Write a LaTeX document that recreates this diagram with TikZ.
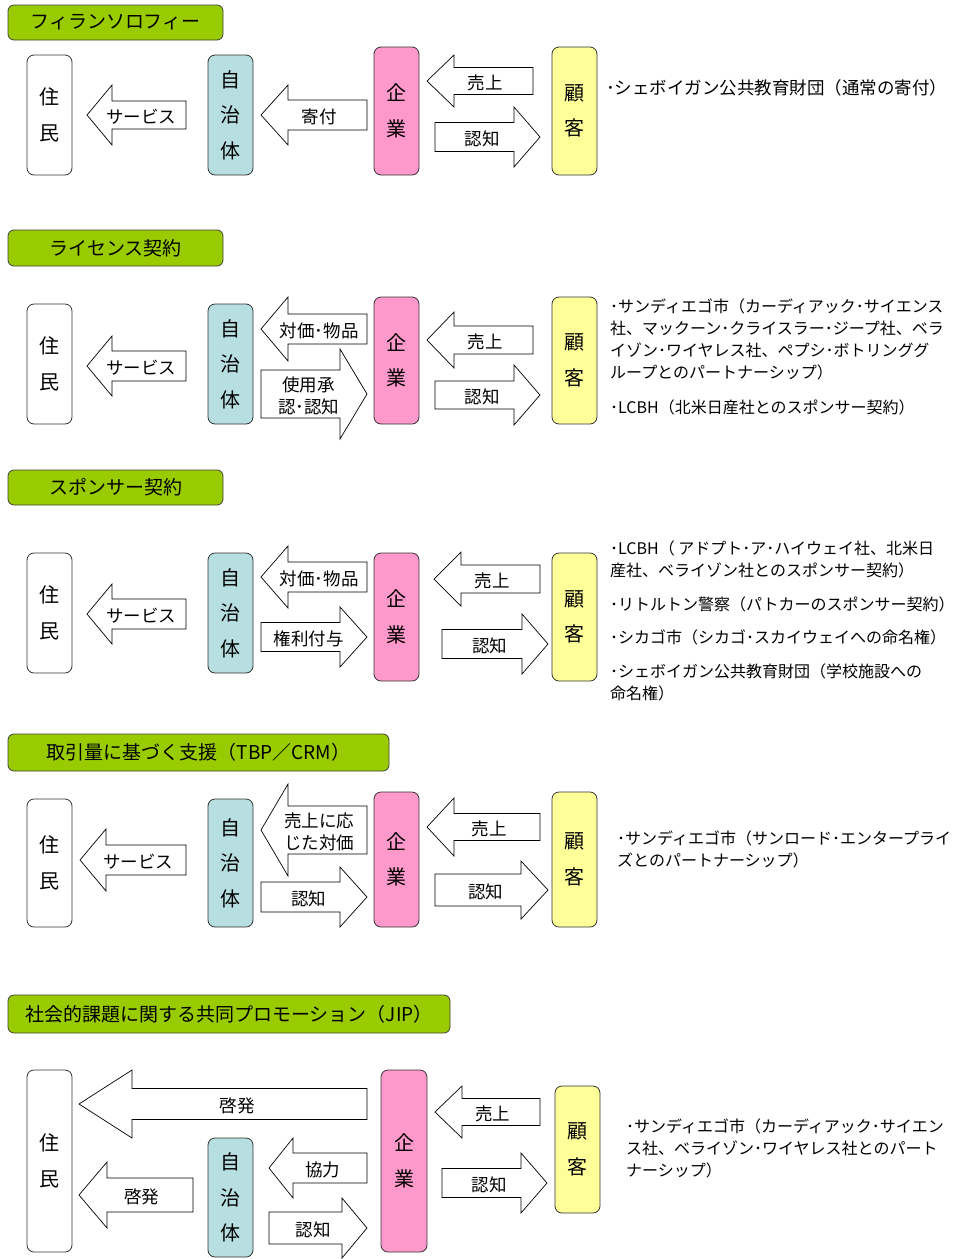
\documentclass[tikz,border=0pt]{standalone}
\usepackage{fontspec}
\setmainfont{Noto Sans CJK JP}
\definecolor{ttlgreen}{HTML}{99CC00}
\definecolor{jichi}{HTML}{B7DEE0}
\definecolor{kigyo}{HTML}{FF99CC}
\definecolor{kokyaku}{HTML}{FFFF99}
\newcommand\boxfont{\fontsize{20}{35.5}\selectfont}
\newcommand\lblfont{\fontsize{17.5}{22}\selectfont}
\newcommand\ttlfont{\fontsize{19}{22}\selectfont}
\newcommand\rtfont{\fontsize{16}{22}\selectfont}
% block arrow: tail x, tip x, y, body half height, head half height, head length, name, label
\newcommand\BlkArr[8]{%
  \pgfmathsetmacro\ba{#2>#1 ? #2-#6 : #2+#6}%
  \pgfmathsetmacro\bl{0.55*#1+0.45*#2}%
  \draw[arrowbox] (#1,#3-#4) -- (\ba,#3-#4) -- (\ba,#3-#5) -- (#2,#3) -- (\ba,#3+#5) -- (\ba,#3+#4) -- (#1,#3+#4) -- cycle;
  \node[albl] (#7) at (\bl,#3+1.5) {#8};
}
\begin{document}
\begin{tikzpicture}[x=1pt,y=-1pt,
  ttl/.style={draw=black!75, line width=0.8pt, fill=ttlgreen, rounded corners=6pt, font=\ttlfont, inner sep=0pt},
  vbox/.style={draw=black!80, line width=0.8pt, rounded corners=7pt, minimum width=45, inner sep=0pt, align=center, font=\boxfont},
  arrowbox/.style={draw=black, line width=0.7pt, fill=white, line join=miter},
  albl/.style={font=\lblfont, inner sep=0pt, align=center},
  rtxt/.style={font=\rtfont, anchor=west, inner sep=0pt}]
\fill[white] (0,0) rectangle (960,1259);
\useasboundingbox (0,0) rectangle (960,1259);

% ===== Section 1 =====
\node[ttl, minimum width=215, minimum height=35] (ttl1) at (115.5,22.5) {フィランソロフィー};
\node[vbox, minimum height=120] (jumin1) at (49.5,115) {住\\民};
\node[vbox, fill=jichi, minimum height=120] (jichi1) at (230.5,115) {自\\治\\体};
\node[vbox, fill=kigyo, minimum height=128] (kigyo1) at (396.5,111) {企\\業};
\node[vbox, fill=kokyaku, minimum height=128] (kokyaku1) at (574.5,111) {顧\\客};
\BlkArr{186}{87}{115}{14}{30}{25}{s1a}{サービス}
\BlkArr{367}{261}{115}{15}{30}{27}{s1b}{寄付}
\BlkArr{533}{427}{81}{13.5}{26}{27}{s1c}{売上}
\BlkArr{435}{540}{137}{14.5}{30}{26}{s1d}{認知}
\node[rtxt, font=\fontsize{17.5}{22}\selectfont] (r1) at (606,88) {･シェボイガン公共教育財団（通常の寄付）};

% ===== Section 2 =====
\node[ttl, minimum width=215, minimum height=36] (ttl2) at (115.5,248) {ライセンス契約};
\node[vbox, minimum height=120] (jumin2) at (49.5,364) {住\\民};
\node[vbox, fill=jichi, minimum height=120] (jichi2) at (230.5,364) {自\\治\\体};
\node[vbox, fill=kigyo, minimum height=127] (kigyo2) at (396.5,360.5) {企\\業};
\node[vbox, fill=kokyaku, minimum height=127] (kokyaku2) at (574.5,360.5) {顧\\客};
\BlkArr{186}{87}{366}{15}{30}{25}{s2a}{サービス}
\BlkArr{367}{261}{329}{15}{32}{27}{s2b}{対価･物品}
\BlkArr{261}{367}{394}{24}{45}{27}{s2c}{使用承\\認･認知}
\BlkArr{533}{427}{340}{14}{28}{27}{s2d}{売上}
\BlkArr{435}{540}{395}{14}{30}{26}{s2e}{認知}
\node[rtxt] (r2a) at (610,306) {･サンディエゴ市（カーディアック･サイエンス};
\node[rtxt] (r2b) at (610,328) {社、マックーン･クライスラー･ジープ社、ベラ};
\node[rtxt] (r2c) at (610,350) {イゾン･ワイヤレス社、ペプシ･ボトリンググ};
\node[rtxt] (r2d) at (610,372) {ループとのパートナーシップ）};
\node[rtxt] (r2e) at (610,407) {･LCBH（北米日産社とのスポンサー契約）};

% ===== Section 3 =====
\node[ttl, minimum width=215, minimum height=35] (ttl3) at (115.5,487.5) {スポンサー契約};
\node[vbox, minimum height=120] (jumin3) at (49.5,613) {住\\民};
\node[vbox, fill=jichi, minimum height=120] (jichi3) at (230.5,613) {自\\治\\体};
\node[vbox, fill=kigyo, minimum height=128] (kigyo3) at (396.5,617) {企\\業};
\node[vbox, fill=kokyaku, minimum height=128] (kokyaku3) at (574.5,617) {顧\\客};
\BlkArr{186}{87}{614}{15}{30}{25}{s3a}{サービス}
\BlkArr{367}{261}{577}{15}{31}{27}{s3b}{対価･物品}
\BlkArr{261}{367}{637}{14.5}{30}{27}{s3c}{権利付与}
\BlkArr{540}{434}{579}{14}{27}{27}{s3d}{売上}
\BlkArr{442}{548}{644}{14.5}{30}{26}{s3e}{認知}
\node[rtxt] (r3a) at (610,548) {･LCBH（ アドプト･ア･ハイウェイ社、北米日};
\node[rtxt] (r3b) at (610,570) {産社、ベライゾン社とのスポンサー契約）};
\node[rtxt] (r3c) at (610,604) {･リトルトン警察（パトカーのスポンサー契約）};
\node[rtxt] (r3d) at (610,637) {･シカゴ市（シカゴ･スカイウェイへの命名権）};
\node[rtxt] (r3e) at (610,671) {･シェボイガン公共教育財団（学校施設への};
\node[rtxt] (r3f) at (610,693) {命名権）};

% ===== Section 4 =====
\node[ttl, minimum width=381, minimum height=37] (ttl4) at (198.5,752.5) {取引量に基づく支援（TBP／CRM）};
\node[vbox, minimum height=128] (jumin4) at (49.5,863) {住\\民};
\node[vbox, fill=jichi, minimum height=128] (jichi4) at (230.5,863) {自\\治\\体};
\node[vbox, fill=kigyo, minimum height=135] (kigyo4) at (396.5,859.5) {企\\業};
\node[vbox, fill=kokyaku, minimum height=135] (kokyaku4) at (574.5,859.5) {顧\\客};
\BlkArr{186}{80}{860}{15}{31}{26}{s4a}{サービス}
\BlkArr{367}{261}{830}{24}{46}{27}{s4b}{売上に応\\じた対価}
\BlkArr{261}{367}{897}{15}{30}{27}{s4c}{認知}
\BlkArr{540}{427}{827}{13.5}{29}{27}{s4d}{売上}
\BlkArr{435}{548}{890}{16}{29}{27}{s4e}{認知}
\node[rtxt] (r4a) at (617,838) {･サンディエゴ市（サンロード･エンタープライ};
\node[rtxt] (r4b) at (617,860) {ズとのパートナーシップ）};

% ===== Section 5 =====
\node[ttl, minimum width=442, minimum height=38] (ttl5) at (229,1014) {社会的課題に関する共同プロモーション（JIP）};
\node[vbox, minimum height=182] (jumin5) at (49.5,1161) {住\\民};
\node[vbox, fill=jichi, minimum height=119] (jichi5) at (230.5,1197.5) {自\\治\\体};
\node[vbox, fill=kigyo, minimum height=182, minimum width=46] (kigyo5) at (404,1161) {企\\業};
\node[vbox, fill=kokyaku, minimum height=127] (kokyaku5) at (577.5,1149.5) {顧\\客};
\BlkArr{367}{79}{1104}{15.5}{34}{53}{s5a}{啓発}
\BlkArr{193}{79}{1195}{17}{33}{28}{s5b}{啓発}
\BlkArr{367}{269}{1168}{15}{30}{24}{s5c}{協力}
\BlkArr{269}{367}{1228}{16}{30}{25}{s5d}{認知}
\BlkArr{540}{435}{1112}{13.5}{26}{27}{s5e}{売上}
\BlkArr{442}{547}{1183}{14.5}{30}{26}{s5f}{認知}
\node[rtxt] (r5a) at (626,1126) {･サンディエゴ市（カーディアック･サイエン};
\node[rtxt] (r5b) at (626,1148) {ス社、ベライゾン･ワイヤレス社とのパート};
\node[rtxt] (r5c) at (626,1170) {ナーシップ）};
\end{tikzpicture}
\end{document}
